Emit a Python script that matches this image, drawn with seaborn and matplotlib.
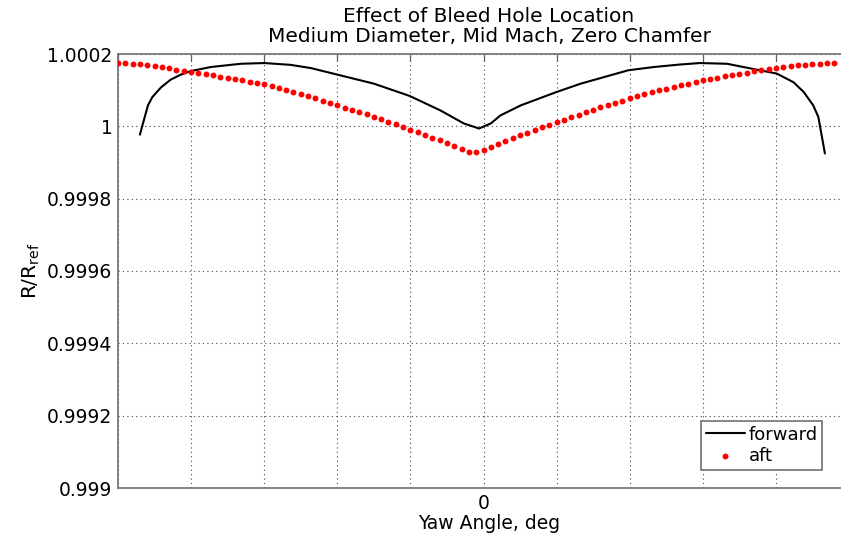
import matplotlib
matplotlib.use("Agg")
import matplotlib.pyplot as plt
import seaborn as sns
import pandas as pd

# ---------------- data ----------------
title_lines = ["Effect of Bleed Hole Location",
               "Medium Diameter, Mid Mach, Zero Chamfer"]
x_label = "Yaw Angle, deg"
y_label = r"R/R$_{\mathregular{ref}}$"

# forward bleed hole (solid black line)
fwd_yaw = [-47.0, -46.6, -45.9, -45.3, -44.1, -42.8, -41.4, -40.0, -37.3, -33.2,
           -30.0, -26.4, -23.6, -20.0, -15.0, -10.1, -5.9, -2.7, -0.6, 1.0,
           2.3, 5.1, 10.0, 13.3, 19.8, 23.3, 26.9, 29.6, 33.3, 37.8,
           40.1, 42.4, 43.8, 45.1, 45.8, 46.3, 46.7]
fwd_ratio = [0.999977, 1.000007, 1.000058, 1.000081, 1.000108, 1.000129, 1.000143,
             1.000153, 1.000164, 1.000173, 1.000175, 1.000170, 1.000161, 1.000143,
             1.000118, 1.000084, 1.000044, 1.000008, 0.999994, 1.000008, 1.000030,
             1.000058, 1.000095, 1.000118, 1.000155, 1.000164, 1.000171, 1.000175,
             1.000173, 1.000155, 1.000146, 1.000122, 1.000095, 1.000058, 1.000026,
             0.999970, 0.999925]

# aft bleed hole (red dots, one per degree)
aft_yaw = list(range(-50, 49))
aft_ratio = [1.0001750, 1.0001745, 1.0001730, 1.0001710, 1.0001685, 1.0001660, 1.0001630,
             1.0001600, 1.0001565, 1.0001530, 1.0001500, 1.0001470, 1.0001440, 1.0001410,
             1.0001375, 1.0001340, 1.0001305, 1.0001270, 1.0001235, 1.0001200, 1.0001160,
             1.0001115, 1.0001065, 1.0001015, 1.0000960, 1.0000895, 1.0000835, 1.0000770,
             1.0000710, 1.0000650, 1.0000585, 1.0000520, 1.0000460, 1.0000395, 1.0000330,
             1.0000260, 1.0000195, 1.0000125, 1.0000055, 0.9999985, 0.9999910, 0.9999835,
             0.9999760, 0.9999685, 0.9999610, 0.9999530, 0.9999450, 0.9999360, 0.9999290,
             0.9999280, 0.9999350, 0.9999425, 0.9999510, 0.9999600, 0.9999675, 0.9999750,
             0.9999820, 0.9999900, 0.9999975, 1.0000045, 1.0000115, 1.0000185, 1.0000255,
             1.0000325, 1.0000395, 1.0000460, 1.0000525, 1.0000590, 1.0000650, 1.0000710,
             1.0000770, 1.0000830, 1.0000885, 1.0000940, 1.0000995, 1.0001040, 1.0001085,
             1.0001130, 1.0001180, 1.0001225, 1.0001270, 1.0001305, 1.0001345, 1.0001380,
             1.0001420, 1.0001455, 1.0001485, 1.0001520, 1.0001550, 1.0001585, 1.0001615,
             1.0001645, 1.0001665, 1.0001685, 1.0001705, 1.0001715, 1.0001730, 1.0001740,
             1.0001750]

x_ticks = [-50, -40, -30, -20, -10, 0, 10, 20, 30, 40, 50]
x_tick_labels = ["", "", "", "", "", "0", "", "", "", "", ""]
y_ticks = [0.999, 0.9992, 0.9994, 0.9996, 0.9998, 1.0, 1.0002]
y_tick_labels = ["0.999", "0.9992", "0.9994", "0.9996", "0.9998", "1", "1.0002"]

fwd_df = pd.DataFrame({"yaw": fwd_yaw, "ratio": fwd_ratio})
aft_df = pd.DataFrame({"yaw": aft_yaw, "ratio": aft_ratio})

# ---------------- plot ----------------
sns.set_style("white")
plt.rcParams["font.family"] = ["DejaVu Sans"]
plt.rcParams["mathtext.fontset"] = "dejavusans"
plt.rcParams["text.color"] = "black"
plt.rcParams["axes.labelcolor"] = "black"
FS = 13.5

fig = plt.figure(figsize=(8.41, 5.33), dpi=100)
ax = fig.add_axes([118 / 841, 45 / 533, 742 / 841, 434 / 533])

sns.lineplot(data=fwd_df, x="yaw", y="ratio", ax=ax, color="black", linewidth=1.5,
             sort=False, estimator=None, label="forward")
sns.scatterplot(data=aft_df, x="yaw", y="ratio", ax=ax, color="red", s=18,
                linewidth=0, marker="o", label="aft", zorder=3)

ax.set_xlim(-50, 51.5)
ax.set_ylim(0.999, 1.0002)
ax.set_xticks(x_ticks)
ax.set_xticklabels(x_tick_labels)
ax.set_yticks(y_ticks)
ax.set_yticklabels(y_tick_labels)

ax.grid(True, color="#444444", linestyle=(0, (1, 3)), linewidth=0.8)
ax.set_axisbelow(True)
for sp in ax.spines.values():
    sp.set_color("#707070")
    sp.set_linewidth(1.2)
ax.tick_params(direction="in", top=True, right=True, length=5, width=0.9,
               color="#606060", labelsize=FS, labelcolor="black", pad=4)

ax.set_xlabel(x_label, fontsize=FS, labelpad=1, color="black")
ax.set_ylabel(y_label, fontsize=14.5, labelpad=4, color="black")
ax.set_title("\n".join(title_lines), fontsize=14.5, linespacing=1.05, pad=9,
             color="black")

leg = ax.legend(loc="upper left", bbox_to_anchor=(701 / 841, 1 - 421 / 533),
                bbox_transform=fig.transFigure, fontsize=13, frameon=True,
                fancybox=False, framealpha=1, edgecolor="#707070",
                handlelength=2.2, handletextpad=0.2, borderpad=0.25,
                labelspacing=0.2, scatterpoints=1, borderaxespad=0)
leg.get_frame().set_linewidth(1.2)
for t in leg.get_texts():
    t.set_color("black")

fig.savefig("out.png", dpi=100)
